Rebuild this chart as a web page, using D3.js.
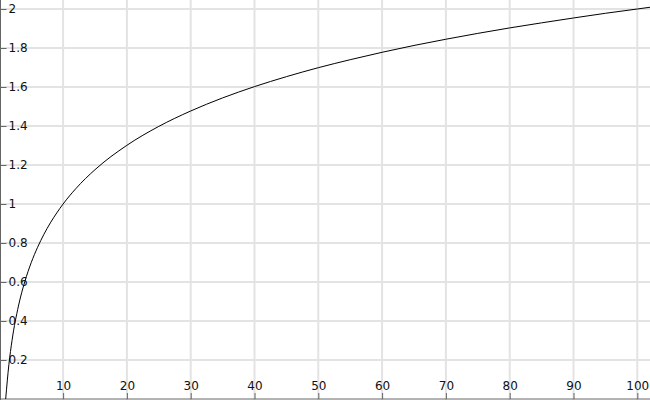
<!DOCTYPE html>
<html>
<head>
<meta charset="utf-8">
<script src="https://cdn.jsdelivr.net/npm/d3@7"></script>
<style>
  body { margin: 0; background: #fff; }
  svg { display: block; }
  .grid line { stroke: #e3e3e3; stroke-width: 2; }
  .axis path, .axis line { stroke: #666; }
  .axis text { fill: #111; font-size: 12px; font-family: "DejaVu Sans", sans-serif; }
</style>
</head>
<body>
<div id="chart"></div>
<script>
// values
const xs = [1, 1.5, 2, 3, 4, 5, 6, 7, 8, 9, 10, 12, 15, 20, 25, 30, 35, 40, 45, 50, 55, 60, 65, 70, 75, 80, 85, 90, 95, 100, 102];
const ys = [0, 0.176, 0.301, 0.477, 0.602, 0.699, 0.778, 0.845, 0.903, 0.954, 1.0, 1.079, 1.176, 1.301, 1.398, 1.477, 1.544, 1.602, 1.653, 1.699, 1.74, 1.778, 1.813, 1.845, 1.875, 1.903, 1.929, 1.954, 1.978, 2.0, 2.009];
const xTicks = [10, 20, 30, 40, 50, 60, 70, 80, 90, 100];
const yTicks = [0.2, 0.4, 0.6, 0.8, 1, 1.2, 1.4, 1.6, 1.8, 2];

const width = 650, height = 400;

const svg = d3.select("#chart").append("svg")
  .attr("width", width)
  .attr("height", height);

const x = d3.scaleLinear().domain([0, 100]).range([-0.7, 637.3]);
const y = d3.scaleLinear().domain([0, 2]).range([399, 9]);

// grid
const grid = svg.append("g").attr("class", "grid");
grid.selectAll(".gx").data(xTicks).join("line")
  .attr("x1", d => x(d)).attr("x2", d => x(d))
  .attr("y1", 0).attr("y2", height);
grid.selectAll(".gy").data(yTicks).join("line")
  .attr("x1", 0).attr("x2", width)
  .attr("y1", d => y(d)).attr("y2", d => y(d));

// x axis at bottom, ticks pointing up, labels above
const xAxis = svg.append("g").attr("class", "axis")
  .attr("transform", `translate(0,${y(0)})`)
  .call(d3.axisTop(x).tickValues(xTicks).tickSize(6).tickSizeOuter(0).tickFormat(d3.format("")))
  .attr("font-family", null);
xAxis.select(".domain").attr("d", `M0,0H${width}`);
xAxis.selectAll("text").attr("y", -9).attr("dy", "0");

// y axis on left, ticks pointing right, labels right
const yAxis = svg.append("g").attr("class", "axis")
  .attr("transform", "translate(0.5,0)")
  .call(d3.axisRight(y).tickValues(yTicks).tickSize(6).tickSizeOuter(0).tickFormat(d3.format("")))
  .attr("font-family", null);
yAxis.select(".domain").attr("d", `M0,0V${height}`);
yAxis.selectAll("text").attr("x", 8);

// curve
const pts = xs.map((v, i) => [v, ys[i]]);
svg.append("path")
  .datum(pts)
  .attr("fill", "none")
  .attr("stroke", "#000")
  .attr("stroke-width", 1)
  .attr("d", d3.line().x(d => x(d[0])).y(d => y(d[1])).curve(d3.curveMonotoneX));
</script>
</body>
</html>
